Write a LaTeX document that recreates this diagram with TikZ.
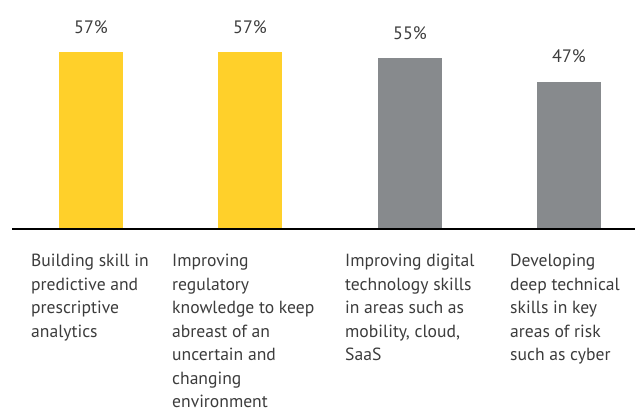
\documentclass[tikz,border=0pt]{standalone}
\usepackage{fontspec}
\setmainfont{PT Sans}
\definecolor{eyyellow}{HTML}{FFD02A}
\definecolor{eygray}{HTML}{878A8D}
\definecolor{txt}{HTML}{3C3C3C}
\begin{document}
\begin{tikzpicture}[x=1pt,y=-1pt,
  ybar/.style={fill=eyyellow,draw=none,minimum width=64pt,inner sep=0pt,anchor=south},
  gbar/.style={fill=eygray,draw=none,minimum width=64pt,inner sep=0pt,anchor=south},
  pct/.style={text=txt,font=\fontsize{18}{20}\selectfont,inner sep=0pt,anchor=center},
  lbl/.style={text=txt,font=\fontsize{17.6}{23.5}\selectfont,inner sep=0pt,anchor=north west,align=left}]
\useasboundingbox (0,0) rectangle (635,414);
\node[ybar,minimum height=177pt] (b1) at (91,229) {};
\node[ybar,minimum height=177pt] (b2) at (250,229) {};
\node[gbar,minimum height=171pt] (b3) at (410,229) {};
\node[gbar,minimum height=147pt] (b4) at (569,229) {};
\coordinate (axl) at (12,229);
\coordinate (axr) at (635,229);
\draw[line width=1.6pt,black] (axl) -- (axr);
\node[pct] (p1) at (91,27) {57\%};
\node[pct] (p2) at (250,27) {57\%};
\node[pct] (p3) at (410,33) {55\%};
\node[pct] (p4) at (569,56) {47\%};
\node[lbl] (l1) at (31,254) {Building skill in\\predictive and\\prescriptive\\analytics};
\node[lbl] (l2) at (172,254) {Improving\\regulatory\\knowledge to keep\\abreast of an\\uncertain and\\changing\\environment};
\node[lbl] (l3) at (345,254) {Improving digital\\technology skills\\in areas such as\\mobility, cloud,\\SaaS};
\node[lbl] (l4) at (510,254) {Developing\\deep technical\\skills in key\\areas of risk\\such as cyber};
\end{tikzpicture}
\end{document}
